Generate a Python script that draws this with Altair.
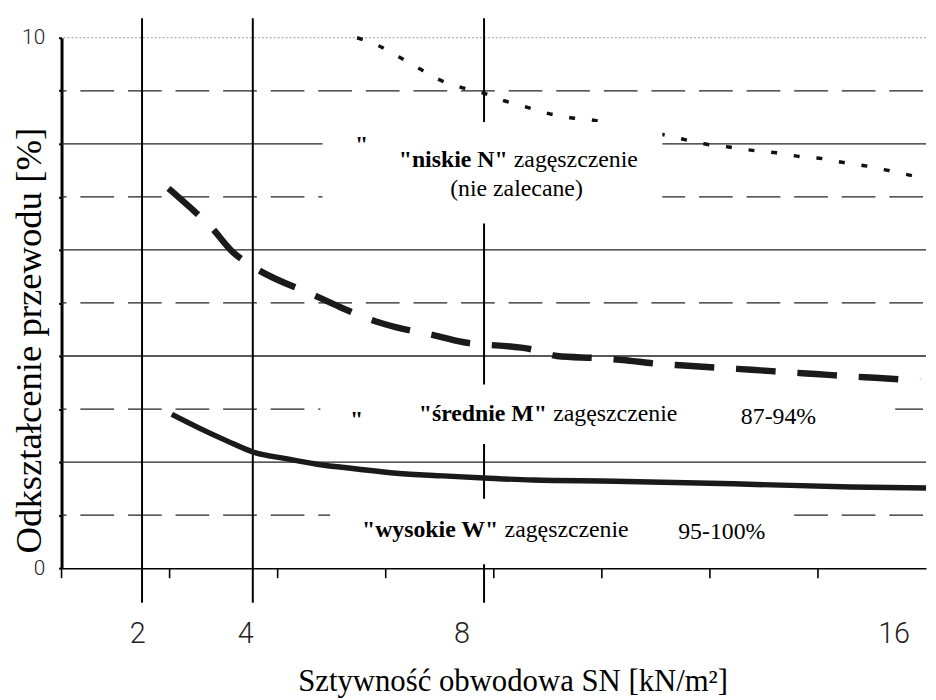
import altair as alt
import pandas as pd

# ---------------- data ----------------
# x: ring stiffness SN [kN/m2], y: pipe deflection [%]
sn_tick_labels = [2, 4, 8, 16]
sn_lines = [2.09, 4.14, 8.42]            # vertical SN class lines (as drawn)
line_bottom, line_top = -0.654, 10.37
minor_ticks = [0.6, 2.6, 4.6, 6.6, 8.6, 10.6, 12.6, 14.6]
minor_tick_len = -0.19
grid_solid = [2, 4, 6, 8]
grid_dashed = [1, 3, 5, 7, 9]
grid_top = [10]

# "niskie N" curve (dotted)
n_x = [6.07, 6.47, 6.84, 7.22, 7.59, 7.98, 8.43, 8.77, 9.15, 9.50, 9.98, 10.40,
       12.09, 12.49, 12.95, 13.44, 13.83, 14.27, 14.69, 15.11, 15.57, 15.98, 16.43, 16.6]
n_y = [10.0, 9.85, 9.64, 9.42, 9.21, 9.07, 8.95, 8.82, 8.71, 8.60, 8.50, 8.45,
       8.09, 8.00, 7.94, 7.87, 7.83, 7.76, 7.72, 7.64, 7.57, 7.48, 7.38, 7.34]

# "średnie M" curve (dashed)
m_x = [2.58, 3.10, 3.35, 3.77, 4.09, 5.33, 5.76, 6.42, 6.80, 7.50, 7.94, 9.37, 9.77,
       10.51, 10.93, 11.66, 12.12, 12.89, 13.37, 14.09, 14.56, 15.28, 15.66, 16.49]
m_y = [7.16, 6.69, 6.45, 5.96, 5.72, 5.12, 4.92, 4.65, 4.54, 4.39, 4.28, 4.11, 4.00,
       3.96, 3.93, 3.85, 3.82, 3.77, 3.74, 3.69, 3.66, 3.61, 3.59, 3.53]

# "wysokie W" curve (solid)
w_x = [2.64, 3.13, 3.68, 4.14, 4.78, 5.33, 6.07, 6.80, 7.66, 8.42, 9.32, 10.84, 13.04, 15.21, 16.6]
w_y = [2.90, 2.65, 2.39, 2.19, 2.06, 1.96, 1.87, 1.79, 1.74, 1.70, 1.66, 1.64, 1.59, 1.53, 1.51]

# white label boxes (cover the grid behind the labels)
box_x1 = [5.43, 5.39, 5.57]
box_x2 = [11.72, 16.03, 14.09]
box_y1 = [8.41, 3.46, 1.31]
box_y2 = [6.50, 2.34, 0.075]

# annotations
bold_text = ['"niskie N"', '"średnie M"', '"wysokie W"']
bold_x = [6.84, 7.21, 6.16]
bold_y = [7.57, 2.77, 0.58]
reg_text = ["zagęszczenie", "zagęszczenie", "zagęszczenie"]
reg_x = [8.97, 9.70, 8.80]
reg_y = [7.57, 2.77, 0.58]
center_text = ["(nie zalecane)", "87-94%", "95-100%"]
center_x = [9.02, 13.87, 12.82]
center_y = [7.01, 2.71, 0.54]
stray_text = ['"', '"']
stray_x = [6.03, 5.94]
stray_y = [7.85, 2.67]

# ---------------- chart ----------------
xs = alt.Scale(domain=[0.6, 16.6], nice=False, zero=False)
ys = alt.Scale(domain=[0, 10], nice=False, zero=False)
SERIF = "Liberation Serif"
SANS = "Roboto"

x_axis = alt.Axis(
    values=sn_tick_labels, ticks=False, tickSize=0, grid=False,
    domainColor="black", domainWidth=1.5,
    labelFont=SANS, labelFontWeight=300, labelFontSize=29, labelColor="#222",
    labelPadding=75, labelBaseline="alphabetic", labelFlush=False, labelOverlap=False,
    title="Sztywność obwodowa SN [kN/m²]", titleFont=SERIF, titleFontSize=31,
    titleFontWeight="normal", titleColor="black", titleX=455, titleY=123,
    titleAlign="center", titleBaseline="alphabetic",
)
y_axis = alt.Axis(
    values=list(range(11)), labelExpr="datum.value == 0 || datum.value == 10 ? datum.label : ''",
    tickSize=3, tickColor="black", tickWidth=2, grid=False,
    domainColor="black", domainWidth=3,
    labelFont=SANS, labelFontWeight=300, labelFontSize=21, labelColor="#222",
    labelPadding=14, labelBaseline="middle",
    title="Odkształcenie przewodu [%]", titleFont=SERIF, titleFontSize=37,
    titleFontWeight="normal", titleColor="black", titleAngle=270, titleX=-21, titleY=305,
    titleAlign="center", titleBaseline="alphabetic",
)


def X(f="x"):
    return alt.X(f"{f}:Q", scale=xs, axis=x_axis)


def Y(f="y"):
    return alt.Y(f"{f}:Q", scale=ys, axis=y_axis)


g_solid = alt.Chart(pd.DataFrame({"y": grid_solid})).mark_rule(
    color="#222", strokeWidth=1.3).encode(y=Y())
g_dash = alt.Chart(pd.DataFrame({"y": grid_dashed})).mark_rule(
    color="#222", strokeWidth=1.3, strokeDash=[34, 14], strokeDashOffset=-3).encode(y=Y())
g_top = alt.Chart(pd.DataFrame({"y": grid_top})).mark_rule(
    color="#9a9a9a", strokeWidth=1, strokeDash=[2, 2]).encode(y=Y())

vlines = alt.Chart(pd.DataFrame({
    "x": sn_lines, "y": [line_bottom] * len(sn_lines), "y2": [line_top] * len(sn_lines)
})).mark_rule(color="black", strokeWidth=2).encode(x=X(), y=Y(), y2="y2:Q")

mticks = alt.Chart(pd.DataFrame({
    "x": minor_ticks, "y": [0] * len(minor_ticks), "y2": [minor_tick_len] * len(minor_ticks)
})).mark_rule(color="black", strokeWidth=1.6).encode(x=X(), y=Y(), y2="y2:Q")

curve_n = alt.Chart(pd.DataFrame({"x": n_x, "y": n_y})).mark_line(
    color="#111", strokeWidth=3.5, strokeDash=[6, 17], interpolate="monotone"
).encode(x=X(), y=Y())
curve_m = alt.Chart(pd.DataFrame({"x": m_x, "y": m_y})).mark_line(
    color="#1a1a1a", strokeWidth=6.5, strokeDash=[40, 22], interpolate="monotone"
).encode(x=X(), y=Y())
curve_w = alt.Chart(pd.DataFrame({"x": w_x, "y": w_y})).mark_line(
    color="#1a1a1a", strokeWidth=5.5, interpolate="monotone"
).encode(x=X(), y=Y())

boxes = alt.Chart(pd.DataFrame({"x": box_x1, "x2": box_x2, "y": box_y1, "y2": box_y2})).mark_rect(
    fill="white").encode(x=X(), x2="x2:Q", y=Y(), y2="y2:Q")

t_bold = alt.Chart(pd.DataFrame({"x": bold_x, "y": bold_y, "t": bold_text})).mark_text(
    font=SERIF, fontSize=24, fontWeight="bold", align="left", baseline="alphabetic", color="black"
).encode(x=X(), y=Y(), text="t:N")
t_reg = alt.Chart(pd.DataFrame({"x": reg_x, "y": reg_y, "t": reg_text})).mark_text(
    font=SERIF, fontSize=24, align="left", baseline="alphabetic", color="black"
).encode(x=X(), y=Y(), text="t:N")
t_center = alt.Chart(pd.DataFrame({"x": center_x, "y": center_y, "t": center_text})).mark_text(
    font=SERIF, fontSize=24, align="center", baseline="alphabetic", color="black"
).encode(x=X(), y=Y(), text="t:N")
t_stray = alt.Chart(pd.DataFrame({"x": stray_x, "y": stray_y, "t": stray_text})).mark_text(
    font=SERIF, fontSize=24, fontWeight="bold", align="left", baseline="alphabetic", color="black"
).encode(x=X(), y=Y(), text="t:N")

chart = alt.layer(
    g_solid, g_dash, g_top, vlines, mticks, curve_n, curve_m, curve_w,
    boxes, t_bold, t_reg, t_center, t_stray
).properties(
    width=872, height=535,
    autosize=alt.AutoSizeParams(type="none"),
    padding={"left": 54, "top": 27, "right": 2, "bottom": 130},
    background="white",
).configure_view(stroke=None)

chart.save("out.html", embed_options={"renderer": "svg", "actions": False})
